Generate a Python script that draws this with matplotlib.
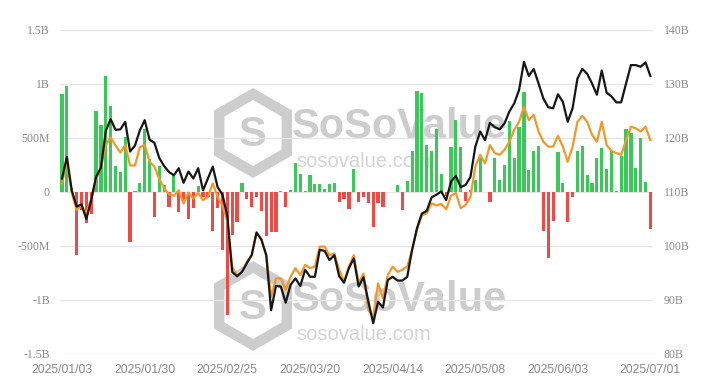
import matplotlib
matplotlib.use("Agg")
import matplotlib.pyplot as plt
from matplotlib.patches import RegularPolygon
import pandas as pd

# trading days 2025/01/03 .. 2025/07/01
holidays = ["2025-01-09", "2025-01-20", "2025-02-17", "2025-04-18", "2025-05-26", "2025-06-19"]
dates = pd.bdate_range("2025-01-03", "2025-07-01", freq="C", holidays=holidays)
date_labels = [d.strftime("%Y/%m/%d") for d in dates]

# daily net inflow, millions USD (left axis)
net_inflow_m = [
    905, 981, 40, -583, -167, -284, -207, 747, 617, 1074,
    796, 241, 182, 509, -460, 12, 83, 580, 309, -231,
    241, 65, -136, 148, -182, -74, -250, -151, 56, -43,
    -50, -365, -150, -537, -1139, -400, -275, 85, -65, -138,
    -43, -180, -407, -367, -367, 9, -138, 20, 268, 170,
    9, 157, 74, 71, 25, 74, 80, -90, -68, -154,
    213, -96, -49, -105, -327, -105, -142, 0, 0, 65,
    -165, 100, 383, 932, 913, 435, 380, 583, 167, -35,
    415, 667, 418, -85, 15, 111, 312, 0, -97, 312,
    111, 250, 660, 315, 599, 929, 204, 380, 423, -358,
    -614, -265, 373, 80, -278, -43, 380, 426, 157, 80,
    318, 407, 213, 380, 6, 333, 583, 543, 225, 497,
    96, -343,
]

# right axis series, billions USD
line_black = [
    112.5, 116.5, 110.3, 107.3, 107.7, 105.0, 108.5, 112.8, 114.5, 121.3,
    123.5, 121.5, 121.6, 123.0, 117.5, 118.6, 121.4, 123.3, 119.7, 119.1,
    116.3, 114.8, 113.7, 113.1, 114.4, 111.7, 113.8, 112.5, 114.4, 110.3,
    112.5, 114.7, 110.9, 109.5, 105.5, 95.2, 94.4, 95.2, 96.8, 98.3,
    102.5, 101.2, 98.3, 88.1, 92.6, 92.5, 89.5, 92.8, 94.0, 92.6,
    95.6, 94.3, 94.3, 99.3, 99.1, 97.4, 98.3, 94.4, 93.2, 95.9,
    97.7, 92.5, 94.2, 89.7, 85.7, 89.7, 88.6, 93.7, 94.3, 93.6,
    93.6, 94.3, 99.3, 103.3, 106.0, 106.5, 109.0, 109.5, 110.1, 108.5,
    111.9, 113.0, 110.9, 111.3, 112.8, 118.4, 121.2, 119.6, 122.8, 122.0,
    121.6, 122.7, 124.9, 126.4, 128.9, 134.1, 131.5, 132.8, 130.1, 127.3,
    125.7, 125.5, 128.1, 126.7, 123.0, 125.5, 131.0, 132.8, 131.9, 130.1,
    128.0, 132.5, 128.4, 127.7, 126.6, 126.6, 130.1, 133.5, 133.5, 133.2,
    134.0, 131.5,
]
line_orange = [
    111.6, 115.7, 109.8, 106.7, 107.5, 106.0, 108.7, 112.5, 114.4, 118.7,
    120.1, 118.6, 117.3, 118.7, 114.9, 114.9, 118.3, 118.7, 115.6, 114.7,
    112.4, 110.7, 109.6, 109.3, 110.3, 107.9, 109.9, 108.8, 109.8, 108.5,
    109.1, 111.6, 109.1, 107.5, 104.5, 96.2, 94.4, 95.2, 97.1, 98.3,
    102.5, 101.2, 98.3, 90.6, 94.0, 94.0, 91.9, 94.3, 95.9, 94.6,
    96.5, 95.9, 96.2, 99.9, 99.9, 98.3, 98.6, 95.6, 93.4, 96.2,
    98.3, 93.1, 94.9, 88.1, 86.9, 93.1, 90.3, 94.6, 96.2, 95.2,
    95.6, 96.2, 99.3, 103.0, 105.7, 106.0, 107.9, 107.5, 107.8, 106.8,
    109.3, 109.8, 107.0, 107.6, 109.1, 114.7, 116.9, 115.3, 118.7, 117.2,
    116.9, 117.8, 119.3, 121.5, 123.0, 125.8, 123.3, 124.3, 121.2, 119.3,
    118.4, 118.4, 120.4, 118.4, 115.6, 118.4, 123.0, 124.1, 123.0, 120.6,
    119.3, 123.0, 118.7, 117.6, 117.2, 116.9, 119.6, 122.1, 121.8, 121.2,
    122.1, 119.6,
]

left_ticks = [-1500, -1000, -500, 0, 500, 1000, 1500]
left_labels = ["-1.5B", "-1B", "-500M", "0", "500M", "1B", "1.5B"]
right_ticks = [80, 90, 100, 110, 120, 130, 140]
right_labels = ["80B", "90B", "100B", "110B", "120B", "130B", "140B"]

W, H = 714, 385
fig = plt.figure(figsize=(W / 100, H / 100), dpi=100)

# watermark layer, pixel coordinates
wm = fig.add_axes([0, 0, 1, 1], zorder=-1)
wm.set_xlim(0, W)
wm.set_ylim(H, 0)
wm.axis("off")
wm_col = "#cdcdcd"
for cy in (133, 306):
    wm.add_patch(RegularPolygon((253, cy), 6, radius=39, orientation=0,
                                fill=False, ec=wm_col, lw=7.5))
    wm.text(253, cy + 2, "S", fontsize=30, fontweight="bold", color=wm_col,
            ha="center", va="center", family="Liberation Sans")
    wm.text(292, cy + 5, "SoSoValue", fontsize=30, fontweight="bold", color=wm_col,
            ha="left", va="baseline", family="Liberation Sans")
    wm.text(296, cy + 34, "sosovalue.com", fontsize=14.5, color="#d4d4d4",
            ha="left", va="baseline", family="Liberation Sans")

x = list(range(len(dates)))
ax = fig.add_axes([59.6 / W, 31 / H, 593.2 / W, 324 / H])
ax.patch.set_visible(False)
colors = ["#3cc75a" if v >= 0 else "#ef4b46" for v in net_inflow_m]
ax.bar(x, net_inflow_m, width=0.66, color=colors, zorder=2)
ax.set_xlim(-0.5, len(dates) - 0.5)
ax.set_ylim(-1500, 1500)
ax.set_yticks(left_ticks)
ax.set_yticklabels(left_labels, family="Liberation Serif", fontsize=8.5, color="#8a8a8a")
ax.grid(axis="y", color="#e6e6e6", lw=1, zorder=0)
ax.set_axisbelow(True)

tick_idx = [0, 17, 34, 51, 68, 85, 102, len(dates) - 1]
ax.set_xticks(tick_idx)
ax.set_xticklabels([date_labels[i] for i in tick_idx], family="Liberation Sans",
                   fontsize=8.8, color="#8a8a8a")
ax.tick_params(axis="both", length=0)
ax.tick_params(axis="y", pad=7)
ax.tick_params(axis="x", pad=7)
for s in ax.spines.values():
    s.set_visible(False)

ax2 = ax.twinx()
ax2.patch.set_visible(False)
ax2.plot(x, line_orange, color="#f0992b", lw=1.6, zorder=3)
ax2.plot(x, line_black, color="#161616", lw=1.6, zorder=4)
ax2.set_ylim(80, 140)
ax2.set_yticks(right_ticks)
ax2.set_yticklabels(right_labels, family="Liberation Serif", fontsize=8.5, color="#8a8a8a")
ax2.tick_params(axis="y", length=0, pad=8)
for s in ax2.spines.values():
    s.set_visible(False)

fig.savefig("out.png", dpi=100)
